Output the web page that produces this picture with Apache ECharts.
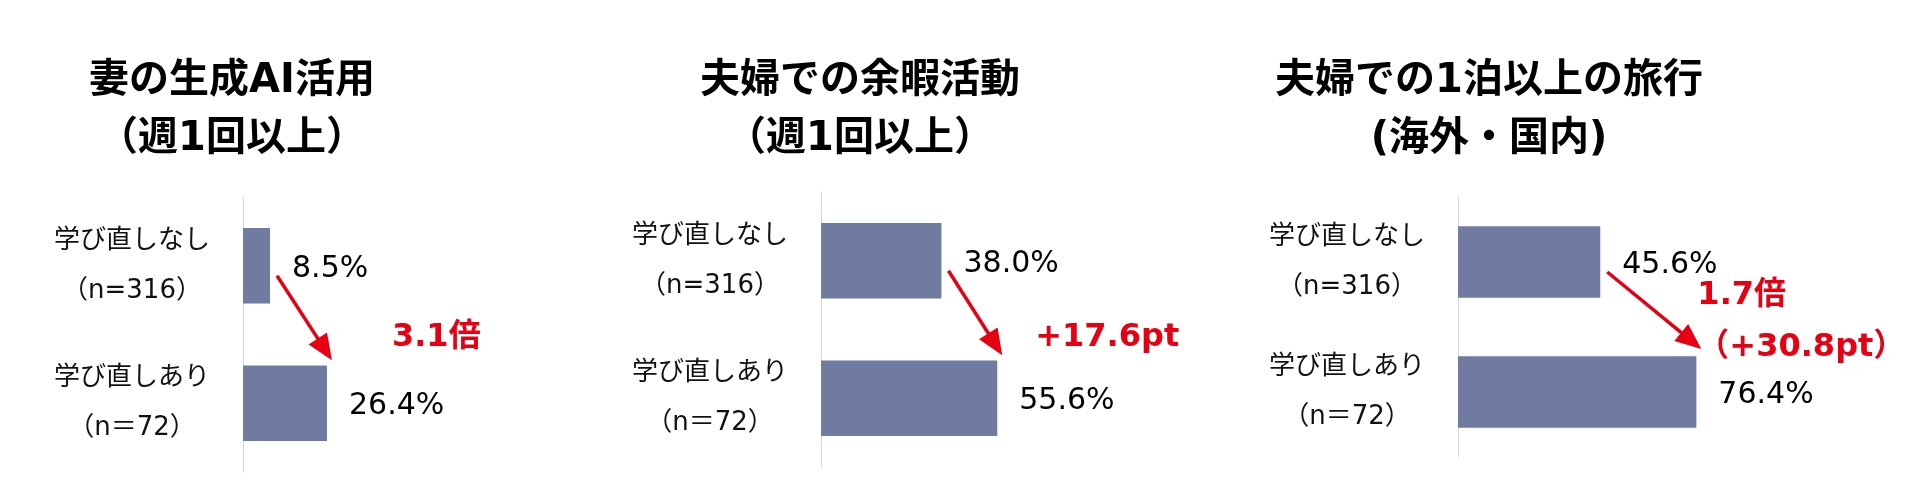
<!DOCTYPE html>
<html>
<head>
<meta charset="utf-8">
<script src="https://cdn.jsdelivr.net/npm/echarts@6/dist/echarts.min.js"></script>
<style>
  html, body { margin: 0; padding: 0; background: #fff; }
  #main { width: 1920px; height: 502px; }
</style>
</head>
<body>
<div id="main"></div>
<script>
// data
const titles = ['妻の生成AI活用\n（週1回以上）', '夫婦での余暇活動\n（週1回以上）', '夫婦での1泊以上の旅行\n(海外・国内)'];
const categories = ['学び直しなし\n（n=316）', '学び直しあり\n（n＝72）'];
const noLearning = [8.5, 38.0, 45.6];
const withLearning = [26.4, 55.6, 76.4];
const notes = ['3.1倍', '+17.6pt', '1.7倍\n（+30.8pt）'];

// layout
const grids = [
  { left: 243, top: 197, width: 318, height: 275 },
  { left: 821, top: 192, width: 317, height: 275 },
  { left: 1458, top: 197, width: 312, height: 260 }
];
const titleX = [232, 860, 1489];
const noteShift = [[60, -23], [33, -18], [-4, -27]];

const latin = "'DejaVu Sans', 'Noto Sans CJK JP', sans-serif";
const barColor = '#6f7ba1';
const red = '#e60012';

const chart = echarts.init(document.getElementById('main'));

const option = {
  backgroundColor: '#fff',
  animation: false,
  title: titles.map((t, i) => ({
    text: t,
    left: titleX[i],
    top: 53,
    textAlign: 'center',
    padding: 0,
    textStyle: { fontSize: 40, fontWeight: 'bold', lineHeight: 58, fontFamily: latin, color: '#000' }
  })),
  grid: grids.map(g => Object.assign({ containLabel: false }, g)),
  xAxis: grids.map((g, i) => ({
    type: 'value', gridIndex: i, min: 0, max: 100, show: false
  })),
  yAxis: grids.map((g, i) => ({
    type: 'category',
    gridIndex: i,
    data: categories,
    inverse: true,
    axisLine: { show: true, lineStyle: { color: '#d9d9d9', width: 1 } },
    axisTick: { show: false },
    axisLabel: {
      align: 'center', margin: 111, fontSize: 26, lineHeight: 50,
      color: '#111', fontFamily: latin
    }
  })),
  series: grids.map((g, i) => ({
    type: 'bar',
    xAxisIndex: i,
    yAxisIndex: i,
    barWidth: '55%',
    data: [noLearning[i], withLearning[i]],
    itemStyle: { color: barColor },
    label: {
      show: true, position: 'right', distance: 22, offset: [0, 3],
      formatter: p => p.value.toFixed(1) + '%',
      fontSize: 30, fontFamily: latin, color: '#000'
    }
  }))
};

chart.setOption(option);

// arrows + notes from the bar ends
const graphics = [];
grids.forEach((g, i) => {
  const p1 = chart.convertToPixel({ gridIndex: i }, [noLearning[i], 0]);
  const p2 = chart.convertToPixel({ gridIndex: i }, [withLearning[i], 1]);
  const s = [p1[0] + 7, p1[1] + 10];
  const t = [p2[0] + 5, p2[1] - 43];
  const dx = t[0] - s[0], dy = t[1] - s[1];
  const len = Math.sqrt(dx * dx + dy * dy);
  const ux = dx / len, uy = dy / len;
  const headLen = 26, headW = 11;
  const b = [t[0] - ux * headLen, t[1] - uy * headLen];
  graphics.push({
    type: 'line',
    shape: { x1: s[0], y1: s[1], x2: b[0] + ux * 2, y2: b[1] + uy * 2 },
    style: { stroke: red, lineWidth: 3.5 }
  });
  graphics.push({
    type: 'polygon',
    shape: { points: [t, [b[0] - uy * headW, b[1] + ux * headW], [b[0] + uy * headW, b[1] - ux * headW]] },
    style: { fill: red }
  });
  graphics.push({
    type: 'text',
    x: t[0] + noteShift[i][0],
    y: t[1] + noteShift[i][1],
    style: {
      text: notes[i], fill: red, fontSize: 32, fontWeight: 'bold',
      fontFamily: latin, lineHeight: 52, align: 'left', verticalAlign: 'middle'
    }
  });
});
chart.setOption({ graphic: graphics });
</script>
</body>
</html>
